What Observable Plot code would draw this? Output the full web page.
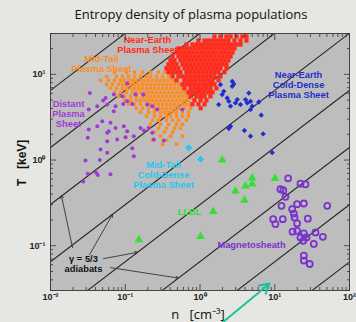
<!DOCTYPE html>
<html>
<head>
<meta charset="utf-8">
<script src="https://cdn.jsdelivr.net/npm/d3@7"></script>
<script src="https://cdn.jsdelivr.net/npm/@observablehq/plot@0.6"></script>
<style>
  html, body { margin: 0; padding: 0; background: #e6e6e3; }
  #wrap { width: 356px; height: 322px; position: relative; overflow: hidden; }
  #title {
    position: relative; left: 13px; width: 356px; height: 26px;
    font: 13px/29px "Open Sans", sans-serif; color: #111; text-align: center;
    white-space: nowrap;
  }
  #chart svg { display: block; }
</style>
</head>
<body>
<div id="wrap">
  <div id="title">Entropy density of plasma populations</div>
  <div id="chart"></div>
</div>
<script>
// Axis decades and their labels
const nDecades = [0.01, 0.1, 1, 10, 100];
const nTickLabels = ["10⁻²", "10⁻¹", "10⁰", "10¹", "10²"];
const tDecades = [0.1, 1, 10];
const tTickLabels = ["10⁻¹", "10⁰", "10¹"];

// γ = 5/3 adiabats, T ∝ n^(2/3): temperature (keV) of each adiabat at n = 1 cm⁻³
const adiabatT1 = [0.0030, 0.0140, 0.0652, 0.302, 1.40, 6.52, 30.2, 140];

// Near-Earth plasma sheet: rows of [T (keV), n values (cm⁻³)]
const nearEarthPS = [
  [27.7, [1.56, 1.88, 2.26, 2.56, 3.07, 3.70, 4.18]],
  [24.8, [0.954, 1.15, 1.30, 1.47, 1.66, 1.88, 2.12, 2.40, 2.89, 3.48, 4.18]],
  [22.3, [0.659, 0.793, 0.897, 1.02, 1.15, 1.30, 1.47, 1.66, 1.88, 2.12, 2.40, 2.72, 3.07, 3.48]],
  [20.1, [0.516, 0.583, 0.659, 0.746, 0.844, 0.954, 1.08, 1.22, 1.38, 1.56, 1.77, 2.00, 2.26, 2.56, 2.89]],
  [18.0, [0.485, 0.548, 0.620, 0.701, 0.793, 0.897, 1.02, 1.15, 1.30, 1.47, 1.66, 1.88, 2.12, 2.40, 2.72]],
  [16.2, [0.429, 0.516, 0.583, 0.659, 0.746, 0.844, 0.954, 1.08, 1.22, 1.38, 1.56, 1.77, 2.00, 2.26, 2.56]],
  [14.6, [0.403, 0.456, 0.548, 0.620, 0.701, 0.793, 0.897, 1.02, 1.15, 1.30, 1.47, 1.66, 1.88, 2.12, 2.40]],
  [13.1, [0.379, 0.429, 0.485, 0.583, 0.659, 0.746, 0.844, 0.954, 1.08, 1.22, 1.38, 1.56, 1.77, 2.00, 2.26]],
  [11.8, [0.356, 0.403, 0.456, 0.516, 0.620, 0.701, 0.793, 0.897, 1.02, 1.15, 1.30, 1.47, 1.66, 1.88, 2.26]],
  [10.6, [0.379, 0.429, 0.485, 0.548, 0.659, 0.746, 0.844, 0.954, 1.08, 1.22, 1.38, 1.56, 1.77, 2.12]],
  [9.48, [0.429, 0.516, 0.583, 0.659, 0.746, 0.844, 0.954, 1.08, 1.22, 1.38, 1.56, 1.88]],
  [8.52, [0.485, 0.620, 0.701, 0.793, 0.897, 1.02, 1.15, 1.30, 1.47, 1.77]],
  [7.65, [0.583, 0.659, 0.746, 0.844, 0.954, 1.08, 1.22, 1.38, 1.56]],
  [6.88, [0.620, 0.746, 0.844, 0.954, 1.08, 1.22, 1.38, 1.66]],
  [6.18, [0.701, 0.793, 0.897, 1.02, 1.15, 1.30, 1.47]],
  [5.55, [0.746, 0.897, 1.02, 1.15, 1.38]],
  [4.99, [0.844, 1.02, 1.22]],
  [4.48, [0.793, 0.954, 1.15]],
  [4.03, [1.02]]
];

// Mid-tail plasma sheet: rows of [T (keV), n values (cm⁻³)]
const midTailPS = [
  [10.6, [0.0719, 0.104, 0.133, 0.170, 0.218, 0.279, 0.335]],
  [9.48, [0.0562, 0.0764, 0.0919, 0.111, 0.133, 0.160, 0.193, 0.218, 0.262, 0.315, 0.379]],
  [8.52, [0.0467, 0.0597, 0.0719, 0.0864, 0.0978, 0.111, 0.125, 0.141, 0.160, 0.181, 0.205, 0.232, 0.262, 0.296, 0.335, 0.379, 0.429]],
  [7.65, [0.0562, 0.0676, 0.0813, 0.0919, 0.104, 0.118, 0.133, 0.150, 0.170, 0.193, 0.218, 0.246, 0.279, 0.315, 0.356, 0.403, 0.456, 0.516]],
  [6.88, [0.0635, 0.0764, 0.0919, 0.104, 0.118, 0.133, 0.150, 0.170, 0.193, 0.218, 0.246, 0.279, 0.315, 0.356, 0.403, 0.456, 0.516, 0.583]],
  [6.18, [0.0719, 0.0864, 0.104, 0.125, 0.141, 0.160, 0.181, 0.205, 0.232, 0.262, 0.296, 0.335, 0.379, 0.429, 0.485, 0.548, 0.620]],
  [5.55, [0.0813, 0.0978, 0.118, 0.141, 0.170, 0.193, 0.218, 0.246, 0.279, 0.315, 0.356, 0.403, 0.456, 0.516, 0.583, 0.659]],
  [4.99, [0.0978, 0.118, 0.141, 0.160, 0.181, 0.205, 0.232, 0.262, 0.296, 0.335, 0.379, 0.429, 0.485, 0.548, 0.620, 0.701]],
  [4.48, [0.111, 0.133, 0.160, 0.193, 0.218, 0.246, 0.279, 0.315, 0.356, 0.403, 0.456, 0.516, 0.583, 0.659, 0.746]],
  [4.03, [0.141, 0.170, 0.205, 0.246, 0.279, 0.315, 0.356, 0.403, 0.456, 0.516, 0.620, 0.746]],
  [3.62, [0.160, 0.205, 0.246, 0.296, 0.335, 0.379, 0.429, 0.485, 0.583, 0.701]],
  [3.25, [0.193, 0.246, 0.296, 0.356, 0.403, 0.485, 0.583, 0.701]],
  [2.92, [0.232, 0.279, 0.356, 0.429, 0.516, 0.659]],
  [2.62, [0.218, 0.296, 0.379, 0.485, 0.583]],
  [2.36, [0.205, 0.279, 0.356, 0.456, 0.548]],
  [2.12, [0.246, 0.335, 0.429]],
  [1.90, [0.296, 0.403, 0.583]],
  [1.71, [0.232, 0.356]],
  [1.53, [0.315, 0.485]]
];

// Distant plasma sheet: [n (cm⁻³), T (keV)]
const distantPS = [
  [0.106, 7.80], [0.0336, 6.05], [0.0545, 5.30], [0.0507, 4.94], [0.0703, 5.81], [0.0910, 5.55],
  [0.137, 5.81], [0.174, 5.81], [0.106, 4.85], [0.124, 4.52], [0.094, 4.52], [0.0741, 4.25],
  [0.0574, 4.44], [0.0422, 4.25], [0.0325, 3.88], [0.197, 4.44], [0.230, 4.25], [0.267, 3.88],
  [0.0703, 3.71], [0.0492, 2.84], [0.0422, 2.48], [0.0635, 2.72], [0.0603, 2.17], [0.0574, 2.08],
  [0.0741, 2.37], [0.0957, 2.48], [0.106, 2.17], [0.160, 2.37], [0.177, 2.21], [0.206, 2.37],
  [0.230, 2.08], [0.130, 1.90], [0.101, 1.85], [0.078, 1.74], [0.328, 1.69], [0.0574, 1.66],
  [0.0467, 1.33], [0.124, 1.37], [0.0325, 2.28], [0.0315, 1.82], [0.0574, 1.22], [0.0294, 0.99],
  [0.0457, 1.00], [0.0315, 0.693], [0.0408, 0.711], [0.0635, 0.682], [0.130, 1.11], [0.241, 1.74],
  [0.0274, 0.560], [0.0430, 0.668], [0.578, 3.88]
];

// Near-Earth cold-dense plasma sheet: [n, T]
const nearEarthCDPS = [
  [1.88, 7.59], [2.08, 6.34], [2.70, 8.29], [2.83, 7.71], [1.98, 5.81], [2.31, 5.30], [2.43, 4.85],
  [1.78, 4.44], [2.56, 4.25], [2.98, 4.64], [3.48, 4.44], [4.06, 5.08], [4.50, 6.05], [4.74, 4.85],
  [4.28, 4.64], [4.99, 4.25], [4.74, 3.88], [6.12, 4.76], [6.59, 3.34], [2.56, 2.48], [2.43, 2.33],
  [3.93, 2.21], [4.74, 1.90], [7.00, 2.02], [9.25, 1.22], [2.70, 7.25], [3.15, 5.08]
];

// Mid-tail cold-dense plasma sheet: [n, T]
const midTailCDPS = [[0.708, 1.39], [1.02, 1.02]];

// Low-latitude boundary layer: [n, T]
const llbl = [
  [1.98, 1.00], [4.99, 0.618], [4.99, 0.526], [10.1, 0.610], [2.98, 0.435],
  [4.06, 0.499], [3.93, 0.340], [1.50, 0.251], [1.02, 0.128], [0.152, 0.117]
];

// Magnetosheath: [n, T]
const magnetosheath = [
  [15.1, 0.612], [22.1, 0.530], [25.8, 0.521], [11.9, 0.456], [13.0, 0.444], [13.9, 0.372],
  [12.3, 0.292], [19.9, 0.305], [24.5, 0.311], [50.4, 0.292], [17.1, 0.267], [18.0, 0.237],
  [18.4, 0.213], [9.53, 0.204], [10.2, 0.179], [12.8, 0.204], [19.9, 0.182], [27.7, 0.207],
  [17.3, 0.146], [19.9, 0.149], [24.5, 0.139], [35.1, 0.143], [22.1, 0.125], [24.0, 0.114],
  [26.6, 0.125], [44.0, 0.127], [33.3, 0.105], [24.5, 0.0766], [24.5, 0.067], [29.4, 0.0612]
];

// Population names, placed in (n, T) units
const populationLabels = [
  {key: "nePS", text: "Near-Earth\nPlasma Sheet", n: 0.198, T: 22.3},
  {key: "mtPS", text: "Mid-Tail\nPlasma Sheet", n: 0.0481, T: 13.4},
  {key: "dPS", text: "Distant\nPlasma\nSheet", n: 0.0174, T: 3.43},
  {key: "neCD", text: "Near-Earth\nCold-Dense\nPlasma Sheet", n: 20.8, T: 7.65},
  {key: "mtCD", text: "Mid-Tail\nCold-Dense\nPlasma Sheet", n: 0.325, T: 0.668},
  {key: "llbl", text: "LLBL", n: 0.724, T: 0.248},
  {key: "msh", text: "Magnetosheath", n: 4.89, T: 0.103},
  {key: "adiabat", text: "γ = 5/3\nadiabats", n: 0.0276, T: 0.0618}
];

// Pointers from the adiabat note to four of the lines
const adiabatPointers = [
  {n1: 0.0197, T1: 0.095, n2: 0.0140, T2: 0.385},
  {n1: 0.0333, T1: 0.0785, n2: 0.0675, T2: 0.232},
  {n1: 0.0512, T1: 0.0706, n2: 0.146, T2: 0.0837},
  {n1: 0.0635, T1: 0.0555, n2: 0.515, T2: 0.0419}
];
const highlightPointer = [{n1: 2.0, T1: 0.0127, n2: 8.5, T2: 0.036}];

const palette = {
  nePS: "#ff2a1a", mtPS: "#ff8c22", dPS: "#a03ad6", neCD: "#1f2ecf",
  mtCD: "#26c6f0", llbl: "#33e033", msh: "#7a33cc", adiabat: "#111111"
};

// ---- derived tables ----
const rowsToPoints = rows => rows.flatMap(([T, ns]) => ns.map(n => ({n, T})));
const pairs = arr => arr.map(([n, T]) => ({n, T}));
const nDomain = [0.01, 100], tDomain = [0.03, 30];
const adiabatLines = adiabatT1.flatMap((t1, k) =>
  nDomain.map(n => ({k, n, T: t1 * Math.pow(n, 2 / 3)})));
const minorOf = (decades, lo, hi) => decades.flatMap(d => d3.range(2, 10).map(m => d * m))
  .filter(v => v >= lo * 0.999 && v <= hi * 1.001);
const nMinor = minorOf([0.01, 0.1, 1, 10], ...nDomain);
const tMinor = minorOf([0.01, 0.1, 1, 10], ...tDomain);

const tickStyle = {stroke: "#333", strokeWidth: 0.8, label: null, tickFormat: () => ""};
const labelStyle = {fontSize: 9, fontWeight: "bold", fill: "#222", tickSize: 0, label: null};

const chart = Plot.plot({
  width: 356,
  height: 296,
  marginTop: 7,
  marginLeft: 50,
  marginRight: 7,
  marginBottom: 32,
  x: {type: "log", domain: nDomain},
  y: {type: "log", domain: tDomain},
  style: {background: "transparent", fontFamily: "Liberation Sans, Arial, sans-serif"},
  marks: [
    Plot.frame({fill: "#bdbdbd", stroke: null}),
    Plot.line(adiabatLines, {x: "n", y: "T", z: "k", stroke: "#262626", strokeWidth: 1.1, clip: true}),
    Plot.dot(rowsToPoints(midTailPS), {x: "n", y: "T", symbol: "square", r: 2.0, fill: palette.mtPS}),
    Plot.dot(rowsToPoints(nearEarthPS), {x: "n", y: "T", symbol: "square", r: 2.4, fill: palette.nePS}),
    Plot.dot(pairs(distantPS), {x: "n", y: "T", r: 2, fill: palette.dPS}),
    Plot.dot(pairs(nearEarthCDPS), {x: "n", y: "T", symbol: "diamond2", r: 2.4, fill: palette.neCD}),
    Plot.dot(pairs(midTailCDPS), {x: "n", y: "T", symbol: "diamond2", r: 3.2, fill: palette.mtCD}),
    Plot.dot(pairs(llbl), {x: "n", y: "T", symbol: "triangle", r: 3.2, fill: palette.llbl}),
    Plot.dot(pairs(magnetosheath), {x: "n", y: "T", r: 3, fill: "none", stroke: palette.msh, strokeWidth: 1.8}),
    Plot.text(populationLabels, {
      x: "n", y: "T", text: "text", fill: d => palette[d.key],
      fontSize: 9.3, fontWeight: "bold", lineHeight: 1.08, textAnchor: "middle"
    }),
    Plot.arrow(adiabatPointers, {
      x1: "n1", y1: "T1", x2: "n2", y2: "T2", stroke: "#333", strokeWidth: 0.9,
      headLength: 5, insetEnd: 0, insetStart: 0
    }),
    Plot.frame({stroke: "#444", strokeWidth: 1}),
    // inward ticks on all four sides
    Plot.axisX(nDecades, {...tickStyle, anchor: "bottom", tickSize: -6}),
    Plot.axisX(nMinor, {...tickStyle, anchor: "bottom", tickSize: -3}),
    Plot.axisX(nDecades, {...tickStyle, anchor: "top", tickSize: -6}),
    Plot.axisX(nMinor, {...tickStyle, anchor: "top", tickSize: -3}),
    Plot.axisY(tDecades, {...tickStyle, anchor: "left", tickSize: -6}),
    Plot.axisY(tMinor, {...tickStyle, anchor: "left", tickSize: -3}),
    Plot.axisY(tDecades, {...tickStyle, anchor: "right", tickSize: -6}),
    Plot.axisY(tMinor, {...tickStyle, anchor: "right", tickSize: -3}),
    // tick labels
    Plot.axisX(nDecades, {...labelStyle, anchor: "bottom", tickPadding: 3,
      tickFormat: d => nTickLabels[nDecades.indexOf(d)]}),
    Plot.axisY(tDecades, {...labelStyle, anchor: "left", tickPadding: 5,
      tickFormat: d => tTickLabels[tDecades.indexOf(d)]}),
    // axis titles
    Plot.text(["n   [cm⁻³]"], {frameAnchor: "bottom", dx: -2, dy: 24, lineAnchor: "middle",
      textAnchor: "middle", fontSize: 13, fill: "#111", fontFamily: "Open Sans, sans-serif"}),
    Plot.text(["T   [keV]"], {frameAnchor: "left", dx: -28, dy: 1, rotate: -90, lineAnchor: "middle",
      textAnchor: "middle", fontSize: 12, fontWeight: "bold", fill: "#111"}),
    Plot.arrow(highlightPointer, {
      x1: "n1", y1: "T1", x2: "n2", y2: "T2", stroke: "#1cc29c", strokeWidth: 2,
      headLength: 8, insetEnd: 0, insetStart: 0
    })
  ]
});
document.getElementById("chart").appendChild(chart);
</script>
</body>
</html>
